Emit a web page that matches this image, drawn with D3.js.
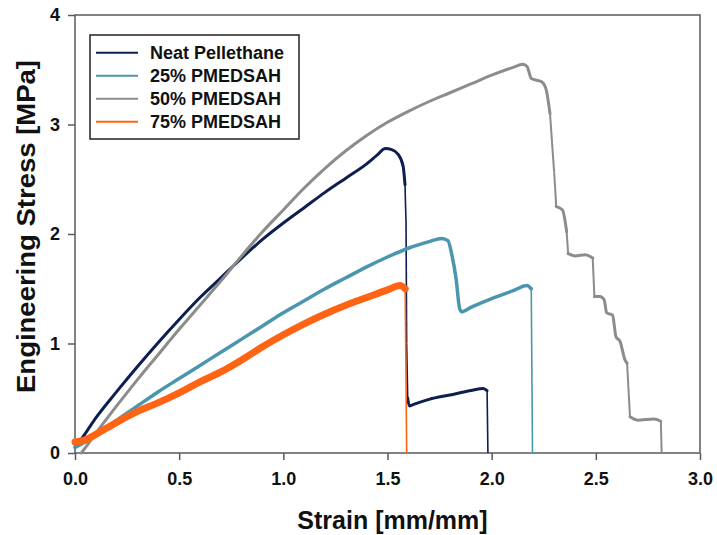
<!DOCTYPE html>
<html><head><meta charset="utf-8">
<script src="https://cdn.jsdelivr.net/npm/d3@7"></script>
<style>body{margin:0;background:#fff}svg{display:block}</style>
</head><body><svg id="c" width="717" height="535"></svg>
<script>
// ---- data (strain [mm/mm], stress [MPa]) ----
const seriesNames = ["Neat Pellethane", "25% PMEDSAH", "50% PMEDSAH", "75% PMEDSAH"];
const seriesColors = ["#0d1f4f", "#4a96ae", "#8c8c8c", "#ff6414"];
const xTicks = [0, 0.5, 1.0, 1.5, 2.0, 2.5, 3.0];
const yTicks = [0, 1, 2, 3, 4];

const neat = [[0,0.05],[0.02,0.10],[0.05,0.18],[0.1,0.32],[0.2,0.56],[0.3,0.79],[0.4,1.01],[0.5,1.22],
  [0.6,1.42],[0.7,1.60],[0.8,1.78],[0.9,1.95],[1.0,2.10],[1.1,2.24],[1.2,2.38],[1.3,2.51],[1.4,2.64],
  [1.45,2.72],[1.49,2.78],[1.52,2.77],[1.55,2.73],[1.575,2.62],[1.584,2.45],[1.589,2.1],[1.592,1.0],
  [1.597,0.50],[1.605,0.43],[1.62,0.44],[1.7,0.49],[1.8,0.53],[1.9,0.57],[1.96,0.59],[1.978,0.57],[1.982,0.0]];
const pm25 = [[0,0.05],[0.1,0.16],[0.2,0.30],[0.3,0.43],[0.4,0.56],[0.5,0.68],[0.6,0.80],[0.7,0.92],
  [0.8,1.04],[0.9,1.16],[1.0,1.28],[1.1,1.39],[1.2,1.50],[1.3,1.60],[1.4,1.70],[1.5,1.79],[1.6,1.87],
  [1.7,1.93],[1.76,1.96],[1.79,1.94],[1.81,1.80],[1.83,1.58],[1.845,1.33],[1.855,1.29],[1.9,1.33],
  [2.0,1.41],[2.1,1.48],[2.17,1.53],[2.19,1.50],[2.196,0.0]];
const pm50 = [[0.03,0.0],[0.05,0.05],[0.1,0.18],[0.2,0.43],[0.3,0.67],[0.4,0.90],[0.5,1.13],[0.6,1.35],
  [0.7,1.57],[0.8,1.80],[0.9,2.02],[1.0,2.22],[1.1,2.42],[1.2,2.60],[1.3,2.76],[1.4,2.90],[1.5,3.02],
  [1.6,3.12],[1.7,3.21],[1.8,3.29],[1.9,3.37],[2.0,3.45],[2.1,3.52],[2.15,3.55],[2.17,3.53],[2.19,3.42],
  [2.24,3.39],[2.26,3.33],[2.28,3.10],[2.29,2.83],[2.30,2.56],[2.31,2.25],[2.34,2.22],[2.36,2.02],
  [2.367,1.82],[2.40,1.80],[2.45,1.81],[2.485,1.78],[2.493,1.43],[2.52,1.43],[2.54,1.40],[2.552,1.28],
  [2.58,1.26],[2.597,1.06],[2.616,1.02],[2.64,0.85],[2.65,0.82],[2.664,0.33],[2.70,0.30],[2.78,0.31],
  [2.812,0.29],[2.816,0.0]];
const pm75 = [[0,0.10],[0.05,0.12],[0.1,0.17],[0.2,0.28],[0.3,0.38],[0.4,0.46],[0.5,0.55],[0.6,0.65],
  [0.7,0.74],[0.8,0.85],[0.9,0.97],[1.0,1.08],[1.1,1.18],[1.2,1.27],[1.3,1.35],[1.4,1.42],[1.5,1.49],
  [1.56,1.53],[1.585,1.50],[1.592,0.0]];

const allSeries = [neat, pm25, pm50, pm75];
const bandWidth = [3, 3.5, 3, 7];
const thinWidth = [1.6, 1.6, 2, 1.6];

// ---- drawing ----
const svg = d3.select("#c");
const x = d3.scaleLinear().domain([0, 3]).range([75, 700]);
const y = d3.scaleLinear().domain([0, 4]).range([453, 15]);
const FONT = "'Liberation Sans', Arial, sans-serif";

// plot frame
svg.append("rect").attr("x", x(0)).attr("y", y(4)).attr("width", x(3) - x(0)).attr("height", y(0) - y(4))
  .attr("fill", "none").attr("stroke", "#5a5a5a").attr("stroke-width", 1.5);

const xAxis = svg.append("g").attr("transform", `translate(0,${y(0)})`)
  .call(d3.axisBottom(x).tickValues(xTicks).tickSize(7).tickPadding(12).tickFormat(d3.format(".1f")));
const yAxis = svg.append("g").attr("transform", `translate(${x(0)},0)`)
  .call(d3.axisLeft(y).tickValues(yTicks).tickSize(7).tickPadding(8).tickFormat(d3.format("d")));
[xAxis, yAxis].forEach(g => {
  g.select(".domain").remove();
  g.selectAll(".tick line").attr("stroke", "#5a5a5a").attr("stroke-width", 1.5);
  g.selectAll(".tick text").attr("font-family", FONT).attr("font-weight", "bold")
    .attr("font-size", 18).attr("fill", "#111");
});

// series: noisy (band) runs drawn thick, steep drops drawn thin
const smooth = d3.line().curve(d3.curveMonotoneX).x(d => x(d[0])).y(d => y(d[1]));
const line = d3.line().x(d => x(d[0])).y(d => y(d[1]));
const steep = (a, b) => Math.abs((b[1] - a[1]) / (b[0] - a[0] || 1e-9)) > 25;
const plot = svg.append("g");
allSeries.forEach((pts, si) => {
  const g = plot.append("g");
  let run = [pts[0]];
  const flush = () => { if (run.length > 1) g.append("path").attr("d", smooth(run)).attr("fill", "none")
      .attr("stroke", seriesColors[si]).attr("stroke-width", bandWidth[si])
      .attr("stroke-linejoin", "round").attr("stroke-linecap", "round"); };
  for (let i = 0; i < pts.length - 1; i++) {
    const a = pts[i], b = pts[i + 1];
    if (steep(a, b)) {
      flush(); run = [b];
      g.append("path").attr("d", line([a, b])).attr("fill", "none")
        .attr("stroke", seriesColors[si]).attr("stroke-width", thinWidth[si]);
    } else run.push(b);
  }
  flush();
});

// legend
const lg = svg.append("g");
lg.append("rect").attr("x", 90).attr("y", 35).attr("width", 209).attr("height", 104)
  .attr("fill", "#fff").attr("stroke", "#222").attr("stroke-width", 1.5);
seriesNames.forEach((n, i) => {
  const cy = 52.7 + i * 23;
  lg.append("line").attr("x1", 96).attr("x2", 138).attr("y1", cy).attr("y2", cy)
    .attr("stroke", seriesColors[i]).attr("stroke-width", 2);
  lg.append("text").attr("x", 150).attr("y", cy + 6.5).text(n)
    .attr("font-family", FONT).attr("font-weight", "bold").attr("font-size", 18).attr("fill", "#111");
});

// axis titles
svg.append("text").attr("x", 392.5).attr("y", 529).attr("text-anchor", "middle")
  .attr("font-family", FONT).attr("font-weight", "bold").attr("font-size", 25).attr("fill", "#111")
  .text("Strain [mm/mm]");
svg.append("text").attr("transform", "translate(35,226.5) rotate(-90)").attr("text-anchor", "middle")
  .attr("font-family", FONT).attr("font-weight", "bold").attr("font-size", 25).attr("fill", "#111")
  .attr("textLength", 333).attr("lengthAdjust", "spacingAndGlyphs")
  .text("Engineering Stress [MPa]");
</script>
</body></html>
